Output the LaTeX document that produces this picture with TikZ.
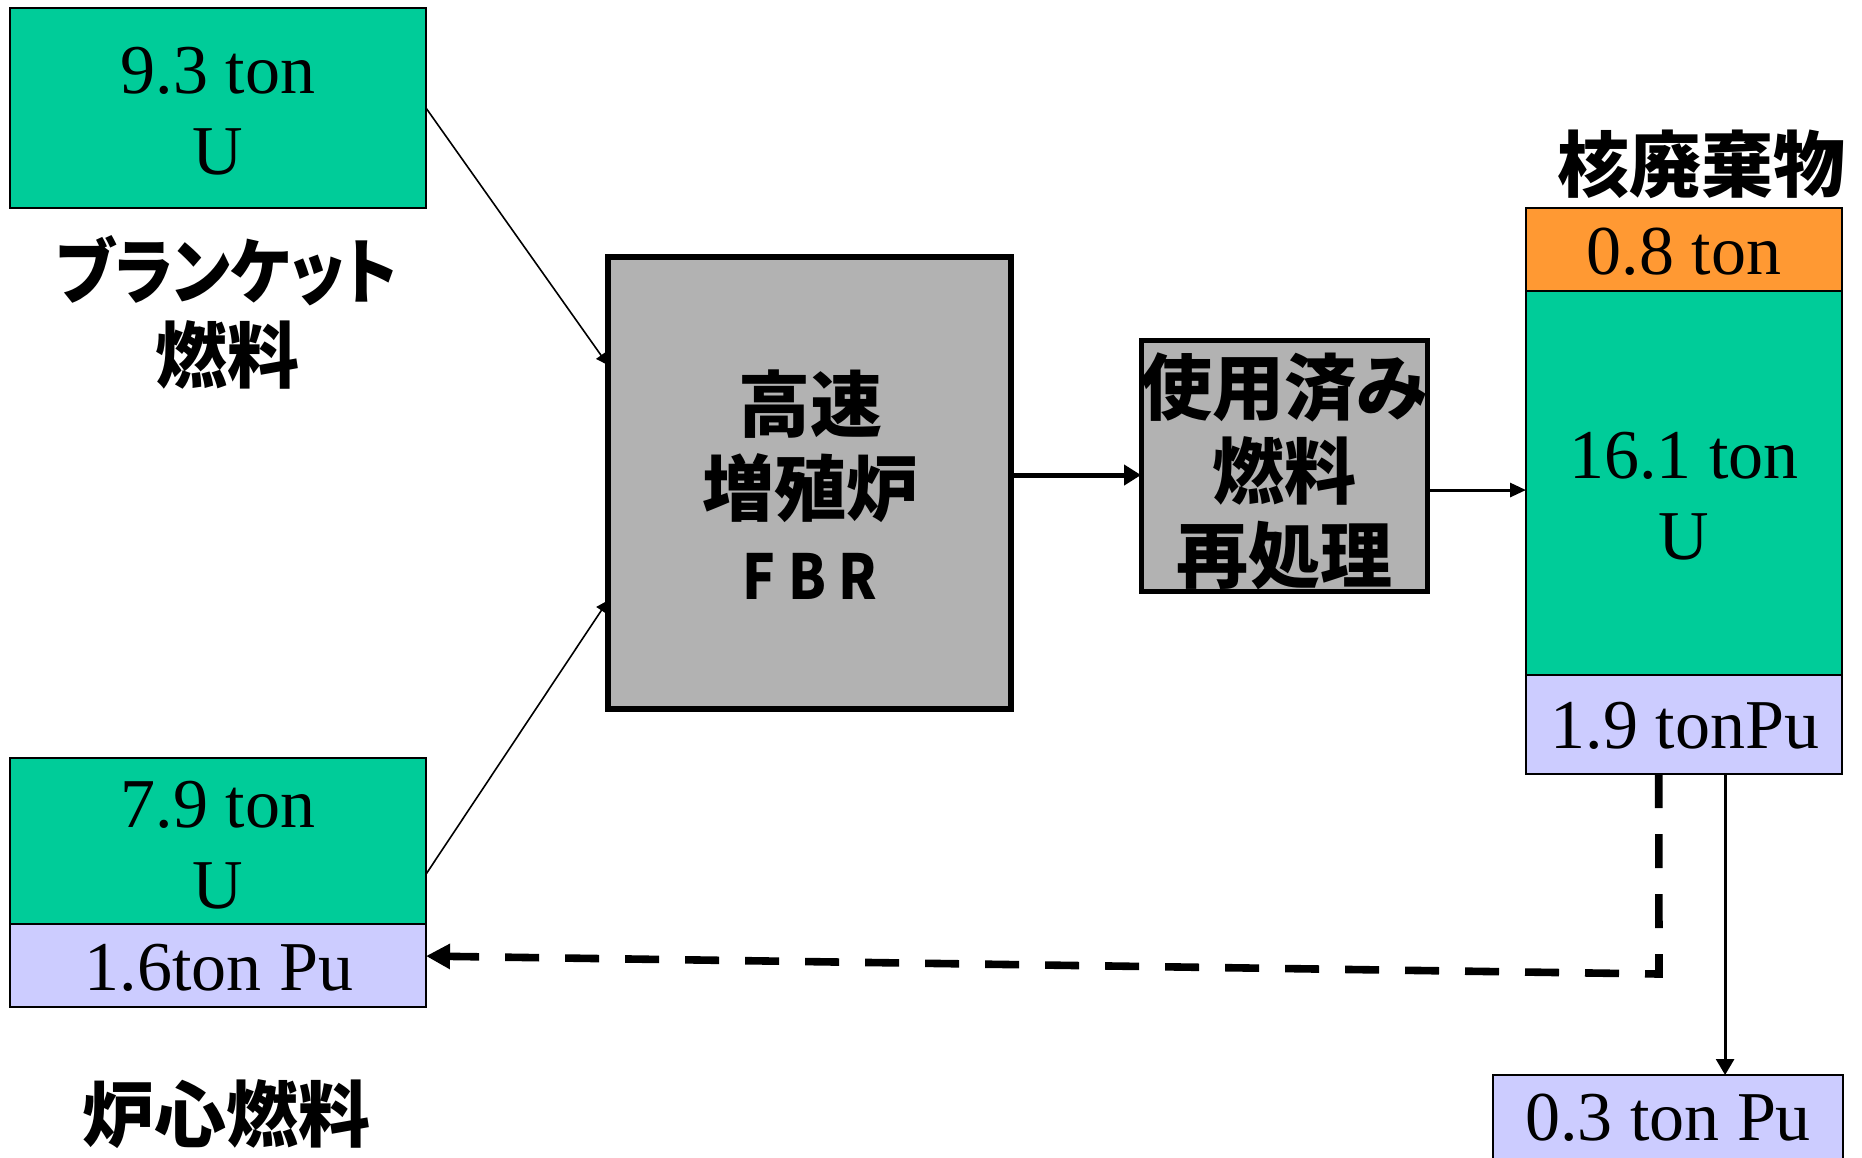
\documentclass[tikz,border=0pt]{standalone}
\usepackage{fontspec}
\setmainfont{Liberation Serif}
\newfontfamily\jp{Noto Sans CJK JP}[RawFeature=+palt]
\newfontfamily\jpn{Noto Sans CJK JP}[RawFeature=+palt, FakeStretch=0.88]
\usetikzlibrary{arrows.meta,calc,fit}
\definecolor{ugreen}{RGB}{0,204,153}
\definecolor{worange}{RGB}{255,153,51}
\definecolor{pulav}{RGB}{204,204,255}
\definecolor{fbrgray}{RGB}{178,178,178}
\begin{document}
\begin{tikzpicture}[x=0.5pt,y=-0.5pt,
  box/.style={draw=black, line width=1pt, inner sep=0pt, outer sep=0pt},
  ubox/.style={box, fill=ugreen},
  obox/.style={box, fill=worange},
  pbox/.style={box, fill=pulav},
  gbox/.style={draw=black, fill=fbrgray, inner sep=0pt, outer sep=0pt},
  lat/.style={font=\fontsize{35pt}{40.5pt}\selectfont, align=center, inner sep=0pt},
  jpt/.style={font=\jp\bfseries\fontsize{36pt}{42pt}\selectfont, align=center, inner sep=0pt},
  thinarr/.style={line width=0.8pt, -{Triangle[length=6pt,width=6pt]}},
  arrA/.style={line width=2.5pt, -{Triangle[length=8.5pt,width=10pt]}},
  arrB/.style={line width=1.5pt, -{Triangle[length=8pt,width=7pt]}},
  arrC/.style={line width=1.4pt, -{Triangle[length=8pt,width=9pt]}},
  dasharr/.style={line width=3.8pt, dash pattern=on 17pt off 13pt, -{Triangle[length=12pt,width=12pt]}},
]
\useasboundingbox (0,0) rectangle (1862,1157);
\fill[white] (0,0) rectangle (1862,1157);

% boxes
\node[ubox, fit={(9.5,8) (426,208)}] (bU) {};
\node[ubox, fit={(9.5,758) (426,924)}] (cU) {};
\node[pbox, fit={(9.5,924) (426,1007)}] (cPu) {};
\node[gbox, line width=3pt, fit={(608,256.5) (1011,709)}] (fbr) {};
\node[gbox, line width=2.5pt, fit={(1141,340) (1427,591)}] (rep) {};
\node[obox, fit={(1526,208) (1842,291)}] (wO) {};
\node[ubox, fit={(1526,291) (1842,674.5)}] (wU) {};
\node[pbox, fit={(1526,674.5) (1842,774)}] (wPu) {};
\node[pbox, fit={(1493,1075) (1843,1162)}] (oPu) {};

% texts
\node[lat] (t1) at (218,111) {9.3 ton\\U};
\node[jpt] (t2) at (227,312) {{\jpn\bfseries ブランケット}\\燃料};
\node[lat] (t3) at (218,845) {7.9 ton\\U};
\node[lat] (t4) at (219,968) {1.6ton Pu};
\node[jpt] (t5) at (226,1114) {炉心燃料};
\node[jpt] (t6) at (810,485) {高速\\増殖炉\\{\jpn\bfseries\fontsize{31pt}{42pt}\selectfont F B R}};
\node[jpt] (t7) at (1284,471) {使用済み\\燃料\\再処理};
\node[jpt] (t8) at (1701,164) {核廃棄物};
\node[lat] (t9) at (1684,252) {0.8 ton};
\node[lat] (t10) at (1684,496) {16.1 ton\\U};
\node[lat] (t11) at (1685,726) {1.9 tonPu};
\node[lat] (t12) at (1668,1118) {0.3 ton Pu};

% connectors
\coordinate (a1) at ($(fbr.north west)!0.24!(fbr.south west)$);
\draw[thinarr] (bU.east) -- (a1);
\coordinate (c1) at ($(cU.north east)!0.70!(cU.south east)$);
\coordinate (a2) at ($(fbr.north west)!0.76!(fbr.south west)$);
\draw[thinarr] (c1) -- (a2);
\coordinate (p1) at ($(rep.north west)!0.538!(rep.south west)$);
\draw[arrA] (fbr.east |- p1) -- (p1);
\coordinate (q1) at ($(wU.north west)!0.519!(wU.south west)$);
\draw[arrB] (rep.east |- q1) -- (q1);
\coordinate (d1) at ($(wPu.south west)!0.42!(wPu.south east)$);
\coordinate (d2) at (1659,974);
\coordinate (d3) at ($(cPu.north east)!0.386!(cPu.south east)$);
\draw[dasharr] (d1) -- (d2) -- (d3);
\coordinate (s1) at ($(wPu.south west)!0.63!(wPu.south east)$);
\draw[arrC] (s1) -- (s1 |- oPu.north);
\end{tikzpicture}
\end{document}
